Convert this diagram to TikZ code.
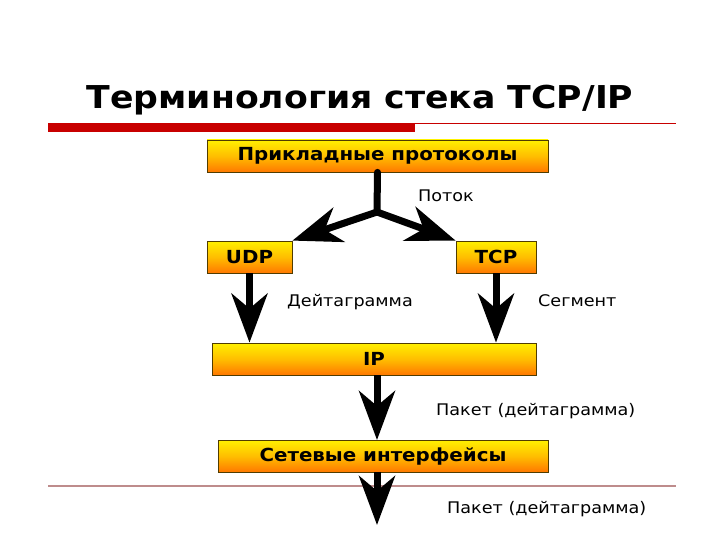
\documentclass[tikz,border=0pt]{standalone}
\usepackage{fontspec}
\setmainfont{DejaVu Sans}[FakeStretch=1.1]
\usetikzlibrary{arrows.meta}
\definecolor{barred}{RGB}{200,0,0}
\definecolor{linebrown}{RGB}{190,140,140}
\definecolor{boxborder}{RGB}{80,60,0}
\definecolor{boxtop}{RGB}{255,240,0}
\definecolor{boxbot}{RGB}{255,120,0}
\tikzset{
  box/.style={draw=boxborder, line width=0.8pt, top color=boxtop, bottom color=boxbot,
    middle color={rgb,255:red,255;green,190;blue,0},
    minimum height=32pt, inner sep=0pt, font=\bfseries\fontsize{18}{21}\selectfont},
  lbl/.style={anchor=base west, inner sep=0pt, font=\fontsize{16}{19}\selectfont},
  thick line/.style={line width=7pt, black},
  arr/.style={thick line, -{Stealth[length=49pt, width=36pt, inset=15pt]}},
}
\begin{document}
\begin{tikzpicture}[x=1pt,y=-1pt]
\useasboundingbox (0,0) rectangle (720,540);
% title
\node[anchor=base, inner sep=0pt, font=\bfseries\fontsize{31.5}{38}\selectfont] (title) at (360,109) {Терминология стека TCP/IP};
% decorative lines
\fill[barred] (48,123) rectangle (415,132);
\draw[barred, line width=0.8pt] (415,123.5) -- (676,123.5);
\draw[linebrown, line width=1.2pt] (48,486) -- (676,486);
% boxes
\node[box, minimum width=341pt] (app) at (377.5,156) {Прикладные протоколы};
\node[box, minimum width=85pt] (udp) at (249.5,257) {UDP};
\node[box, minimum width=80pt] (tcp) at (496,257) {TCP};
\node[box, minimum width=324pt] (ip) at (374,359) {IP};
\node[box, minimum width=330pt] (net) at (383,456) {Сетевые интерфейсы};
% connectors
\coordinate (fork) at (377,212);
\coordinate (out) at (377,525);
\draw[thick line, line cap=round] (app.south) -- (fork);
\draw[arr] (fork) -- (udp.north east);
\draw[arr] (fork) -- (tcp.north west);
\draw[arr] (udp.south) -- (udp.south |- ip.north);
\draw[arr] (tcp.south) -- (tcp.south |- ip.north);
\draw[arr] (377,375) -- (377,440);
\draw[arr] (377,472) -- (out);
% labels
\node[lbl] (l1) at (418,202) {Поток};
\node[lbl] (l2) at (287,306) {Дейтаграмма};
\node[lbl] (l3) at (538,306) {Сегмент};
\node[lbl] (l4) at (436,415) {Пакет (дейтаграмма)};
\node[lbl] (l5) at (447,513) {Пакет (дейтаграмма)};
\end{tikzpicture}
\end{document}
